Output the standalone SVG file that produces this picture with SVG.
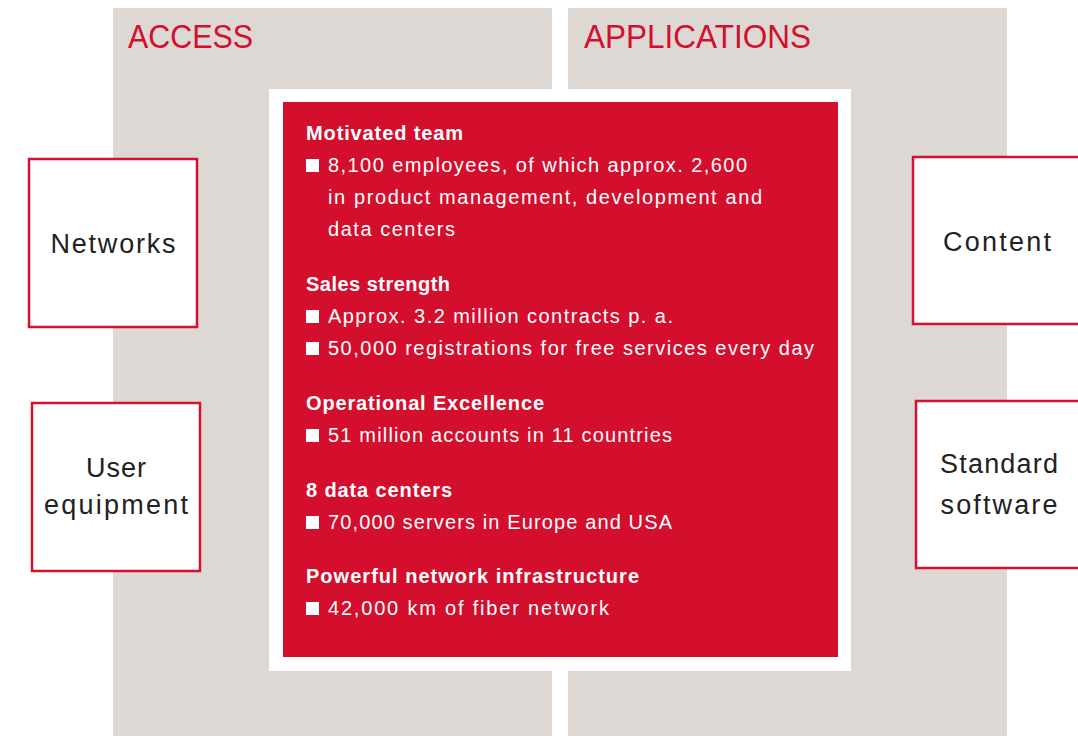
<svg xmlns="http://www.w3.org/2000/svg" width="1078" height="736" viewBox="0 0 1078 736">
<style>
.panel{fill:#DDD8D3}
.title{fill:#D40E2D;font-family:"Liberation Sans",Arial,sans-serif;font-size:34px}
.node rect{fill:#fff;stroke:#D6102F;stroke-width:2.5}
.node text{fill:#222;font-family:"Liberation Sans",Arial,sans-serif;font-size:27px;text-anchor:middle}
.h{fill:#fff;font-family:"Liberation Sans",Arial,sans-serif;font-size:20px;font-weight:bold}
.b{fill:#fff;font-family:"Liberation Sans",Arial,sans-serif;font-size:20px}
.sq{fill:#fff}
</style>
<rect width="1078" height="736" fill="#fff"/>
<g id="panels">
<rect class="panel" x="113" y="8" width="439" height="728"/>
<rect class="panel" x="568" y="8" width="439" height="728"/>
<text class="title" x="128" y="48" textLength="125" lengthAdjust="spacingAndGlyphs">ACCESS</text>
<text class="title" x="584" y="48" textLength="227" lengthAdjust="spacingAndGlyphs">APPLICATIONS</text>
</g>
<g id="core">
<rect x="269" y="89" width="582" height="582" fill="#fff"/>
<rect x="283" y="102" width="555" height="555" fill="#D40E2D"/>
<text class="h" x="306" y="140" textLength="157">Motivated team</text>
<rect class="sq" x="306" y="159" width="13" height="13"/>
<text class="b" x="328" y="172" textLength="419">8,100 employees, of which approx. 2,600</text>
<text class="b" x="328" y="204" textLength="434">in product management, development and</text>
<text class="b" x="328" y="236" textLength="127">data centers</text>
<text class="h" x="306" y="291" textLength="144">Sales strength</text>
<rect class="sq" x="306" y="310" width="13" height="13"/>
<text class="b" x="328" y="323" textLength="345">Approx. 3.2 million contracts p. a.</text>
<rect class="sq" x="306" y="342" width="13" height="13"/>
<text class="b" x="328" y="355" textLength="486">50,000 registrations for free services every day</text>
<text class="h" x="306" y="410" textLength="238">Operational Excellence</text>
<rect class="sq" x="306" y="429" width="13" height="13"/>
<text class="b" x="328" y="442" textLength="344">51 million accounts in 11 countries</text>
<text class="h" x="306" y="497" textLength="146">8 data centers</text>
<rect class="sq" x="306" y="516" width="13" height="13"/>
<text class="b" x="328" y="529" textLength="344">70,000 servers in Europe and USA</text>
<text class="h" x="306" y="583" textLength="333">Powerful network infrastructure</text>
<rect class="sq" x="306" y="602" width="13" height="13"/>
<text class="b" x="328" y="615" textLength="281">42,000 km of fiber network</text>
</g>
<g id="node-networks" class="node">
<rect x="29" y="159" width="168" height="168"/>
<text x="113" y="253" textLength="125">Networks</text>
</g>
<g id="node-user-equipment" class="node">
<rect x="32" y="403" width="168" height="168"/>
<text x="116" y="477" textLength="60">User</text>
<text x="116" y="514" textLength="144">equipment</text>
</g>
<g id="node-content" class="node">
<rect x="913" y="157" width="180" height="167"/>
<text x="997" y="251" textLength="108">Content</text>
</g>
<g id="node-standard-software" class="node">
<rect x="916" y="401" width="180" height="167"/>
<text x="999" y="473" textLength="118">Standard</text>
<text x="999" y="514" textLength="117">software</text>
</g>
<g id="connectors"></g>
</svg>
